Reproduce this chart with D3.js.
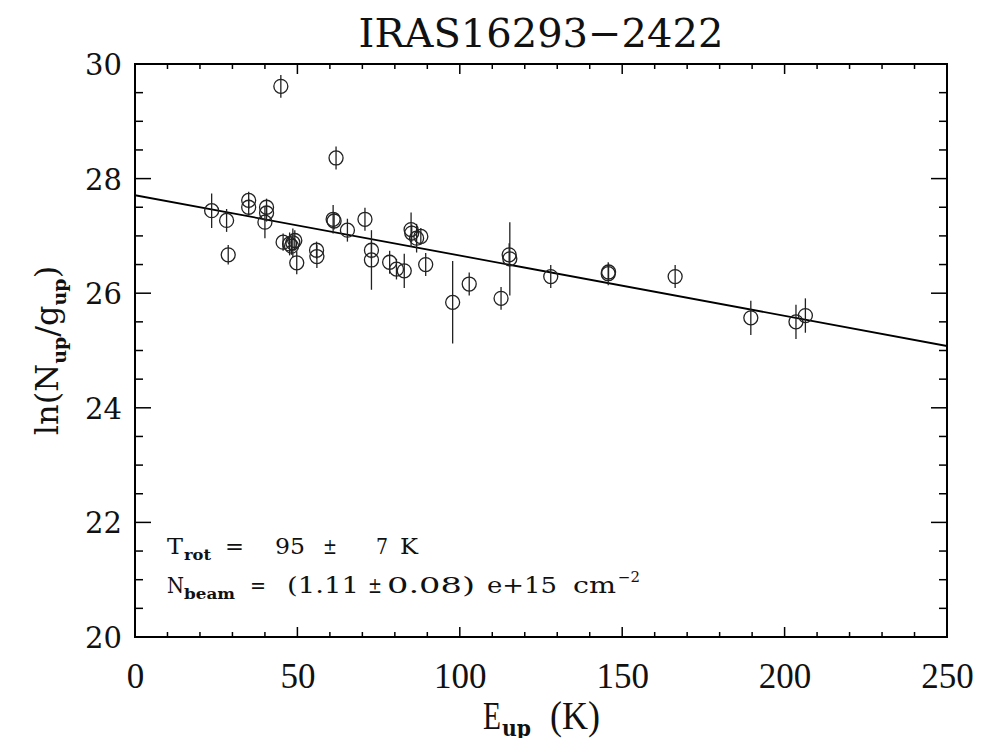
<!DOCTYPE html>
<html>
<head>
<meta charset="utf-8">
<script src="https://cdn.jsdelivr.net/npm/d3@7"></script>
<style>
  body { margin: 0; background: #fff; }
  svg text { white-space: pre; }
</style>
</head>
<body>
<svg id="chart" width="1003" height="738"></svg>
<script>
// upper level energy (K)
var eUp = [23.6, 28.2, 28.7, 35.0, 35.0, 40.5, 40.5, 40.0, 44.9, 45.6, 47.6, 48.2, 48.6, 49.2, 49.8,
           55.9, 56.0, 61.0, 61.3, 61.9, 65.4, 70.8, 72.8, 72.8, 78.4, 80.5, 82.9, 85.0, 85.2, 86.7,
           88.0, 89.5, 97.8, 102.9, 112.7, 115.2, 115.4, 128.0, 145.7, 145.8, 166.3, 189.6, 203.5, 206.4];
// ln(Nup/gup)
var lnN = [27.44, 27.27, 26.67, 27.62, 27.50, 27.50, 27.40, 27.24, 29.61, 26.89, 26.86, 26.82, 26.88, 26.92, 26.53,
           26.75, 26.64, 27.29, 27.26, 28.36, 27.10, 27.29, 26.75, 26.58, 26.54, 26.42, 26.39, 27.11, 27.05, 26.96,
           26.99, 26.50, 25.84, 26.16, 25.91, 26.67, 26.60, 26.29, 26.34, 26.37, 26.29, 25.57, 25.50, 25.61];
// error bars (half length)
var lnErr = [0.30, 0.20, 0.17, 0.15, 0.15, 0.15, 0.15, 0.28, 0.20, 0.15, 0.20, 0.15, 0.25, 0.18, 0.20,
             0.15, 0.20, 0.25, 0.15, 0.20, 0.20, 0.20, 0.15, 0.52, 0.20, 0.18, 0.30, 0.30, 0.15, 0.25,
             0.15, 0.20, 0.72, 0.20, 0.20, 0.20, 0.64, 0.20, 0.20, 0.15, 0.20, 0.30, 0.30, 0.30];
// rotation diagram fit: ln N = intercept - E / Trot
var fitIntercept = 27.71;
var fitTrot = 95;
var xTicks = [0, 50, 100, 150, 200, 250];
var yTicks = [20, 22, 24, 26, 28, 30];

(function() {
var points = eUp.map(function(e, i) { return { e: e, v: lnN[i], err: lnErr[i] }; });

var svg = d3.select('#chart'),
    pLeft = 135, pRight = 947, pTop = 64, pBottom = 637;

var x = d3.scaleLinear().domain([0, 250]).range([pLeft, pRight]);
var y = d3.scaleLinear().domain([20, 30]).range([pBottom, pTop]);

var serif = '"DejaVu Serif", serif';
var narrow = '"Liberation Serif", serif';

svg.append('defs').append('clipPath').attr('id', 'plotclip')
    .append('rect').attr('x', pLeft).attr('y', pTop).attr('width', pRight - pLeft).attr('height', pBottom - pTop);

var plot = svg.append('g').attr('clip-path', 'url(#plotclip)');

// fit line
plot.append('line')
    .attr('x1', x(0)).attr('y1', y(fitIntercept))
    .attr('x2', x(250)).attr('y2', y(fitIntercept - 250 / fitTrot))
    .attr('stroke', '#000').attr('stroke-width', 1.8);

// error bars
plot.selectAll('.err').data(points).enter().append('line')
    .attr('x1', function(d) { return x(d.e); })
    .attr('x2', function(d) { return x(d.e); })
    .attr('y1', function(d) { return y(d.v - d.err); })
    .attr('y2', function(d) { return y(d.v + d.err); })
    .attr('stroke', '#222').attr('stroke-width', 1.3);

// symbols
plot.selectAll('.pt').data(points).enter().append('circle')
    .attr('cx', function(d) { return x(d.e); })
    .attr('cy', function(d) { return y(d.v); })
    .attr('r', 7)
    .attr('fill', 'none').attr('stroke', '#222').attr('stroke-width', 1.3);

// ticks on all four sides
var xMinor = d3.range(0, 251, 10), yMinor = d3.range(20, 30.01, 0.5);

var gx = svg.append('g').attr('stroke', '#000').attr('stroke-width', 1.5);
xMinor.forEach(function(v) {
    var len = v % 50 === 0 ? 10 : 5;
    gx.append('line').attr('x1', x(v)).attr('x2', x(v)).attr('y1', pBottom).attr('y2', pBottom - len);
    gx.append('line').attr('x1', x(v)).attr('x2', x(v)).attr('y1', pTop).attr('y2', pTop + len);
});

var gy = svg.append('g').attr('stroke', '#000').attr('stroke-width', 1.5);
yMinor.forEach(function(v) {
    var len = (Math.abs(v % 2) < 1e-6) ? 16 : 8;
    gy.append('line').attr('x1', pLeft).attr('x2', pLeft + len).attr('y1', y(v)).attr('y2', y(v));
    gy.append('line').attr('x1', pRight).attr('x2', pRight - len).attr('y1', y(v)).attr('y2', y(v));
});

// frame
svg.append('rect')
    .attr('x', pLeft).attr('y', pTop).attr('width', pRight - pLeft).attr('height', pBottom - pTop)
    .attr('fill', 'none').attr('stroke', '#000').attr('stroke-width', 2);

// tick labels
var xg = svg.append('g').attr('transform', 'translate(0,' + pBottom + ')')
    .call(d3.axisBottom(x).tickValues(xTicks).tickSize(0));
xg.select('.domain').remove();
xg.selectAll('text')
    .attr('dy', null).attr('y', 51)
    .attr('font-family', narrow).attr('font-size', 35).attr('fill', '#111');

var yg = svg.append('g').attr('transform', 'translate(' + pLeft + ',0)')
    .call(d3.axisLeft(y).tickValues(yTicks).tickSize(0));
yg.select('.domain').remove();
yg.selectAll('text')
    .attr('x', -13).attr('dy', '0.36em')
    .attr('font-family', serif).attr('font-size', 29).attr('fill', '#111');

// title
svg.append('text')
    .attr('x', (pLeft + pRight) / 2).attr('y', 47)
    .attr('text-anchor', 'middle')
    .attr('font-family', serif).attr('font-size', 40).attr('fill', '#111')
    .text('IRAS16293\u22122422');

// helper: a text piece at a given x with a fixed drawn width
function piece(t, px, w, str, opts) {
    var s = t.append('tspan').attr('x', px).attr('textLength', w)
        .attr('lengthAdjust', 'spacingAndGlyphs').text(str);
    if (opts) Object.keys(opts).forEach(function(k) { s.attr(k, opts[k]); });
    return s;
}

// x label
var xl = svg.append('text').attr('x', 483).attr('y', 729)
    .attr('font-family', narrow).attr('font-size', 40).attr('fill', '#111');
piece(xl, 483, 18, 'E');
piece(xl, 502, 29, 'up', { 'font-size': 22, 'font-family': serif, 'font-weight': 'bold', dy: 7 });
piece(xl, 550, 50, '(K)', { dy: -7 });

// y label
var yl = svg.append('text')
    .attr('transform', 'translate(58,' + ((pTop + pBottom) / 2) + ') rotate(-90)')
    .attr('text-anchor', 'middle')
    .attr('font-family', serif).attr('font-size', 32).attr('fill', '#111');
yl.append('tspan').text('ln(N');
yl.append('tspan').attr('font-size', 19).attr('font-weight', 'bold').attr('dy', 8).text('up');
yl.append('tspan').attr('dy', -8).text('/g');
yl.append('tspan').attr('font-size', 19).attr('font-weight', 'bold').attr('dy', 8).text('up');
yl.append('tspan').attr('dy', -8).text(')');

// annotations, pieces placed like the IDL layout
var t1 = svg.append('text').attr('x', 167).attr('y', 554)
    .attr('font-family', serif).attr('font-size', 23).attr('fill', '#111');
piece(t1, 167, 16, 'T');
piece(t1, 184, 27, 'rot', { 'font-size': 15, 'font-weight': 'bold', dy: 6 });
piece(t1, 225, 19, '=', { dy: -6 });
piece(t1, 275, 30, '95');
piece(t1, 323, 14, '\u00b1');
piece(t1, 376, 12, '7');
piece(t1, 400, 18, 'K');

var t2 = svg.append('text').attr('x', 167).attr('y', 593)
    .attr('font-family', serif).attr('font-size', 23).attr('fill', '#111');
piece(t2, 167, 17, 'N');
piece(t2, 184, 51, 'beam', { 'font-size': 15, 'font-weight': 'bold', dy: 6 });
piece(t2, 250, 16, '=', { dy: -6 });
piece(t2, 287, 72, '(1.11');
piece(t2, 368, 14, '\u00b1');
piece(t2, 387, 88, '0.08)');
piece(t2, 487, 70, 'e+15');
piece(t2, 573, 43, 'cm');
piece(t2, 618, 22, '\u22122', { 'font-size': 14, dy: -11 });
})();
</script>
</body>
</html>
